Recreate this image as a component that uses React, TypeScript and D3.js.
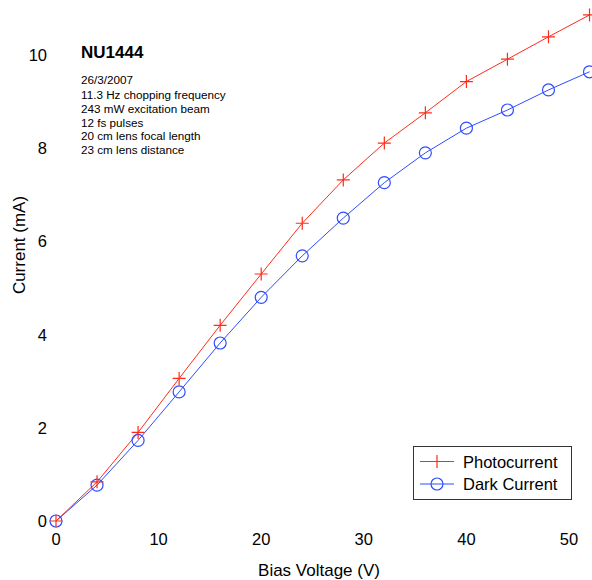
import React, { useRef, useEffect } from 'react';
import * as d3 from 'd3';

const voltages = [0, 4, 8, 12, 16, 20, 24, 28, 32, 36, 40, 44, 48, 52];
const photocurrent = [0, 0.84, 1.9, 3.06, 4.2, 5.3, 6.39, 7.32, 8.11, 8.76, 9.43, 9.91, 10.39, 10.86];
const darkCurrent = [0, 0.77, 1.73, 2.77, 3.82, 4.8, 5.69, 6.5, 7.26, 7.9, 8.43, 8.82, 9.25, 9.64];
const xTicks = [0, 10, 20, 30, 40, 50];
const yTicks = [0, 2, 4, 6, 8, 10];
const notes = [
  '26/3/2007',
  '11.3 Hz chopping frequency',
  '243 mW excitation beam',
  '12 fs pulses',
  '20 cm lens focal length',
  '23 cm lens distance',
];

const RED = '#ff2a1a';
const BLUE = '#2f4cff';
const FONT = '"Liberation Sans", Arial, sans-serif';

function App() {
  const ref = useRef<SVGSVGElement>(null);

  useEffect(() => {
    const svg = d3.select(ref.current);
    svg.selectAll('*').remove();

    const x = d3.scaleLinear().domain([0, 50]).range([56, 569]);
    const y = d3.scaleLinear().domain([0, 10]).range([521, 55]);

    // tick labels, no axis lines
    svg.append('g')
      .selectAll('text')
      .data(xTicks)
      .enter().append('text')
      .attr('x', d => x(d))
      .attr('y', 545)
      .attr('text-anchor', 'middle')
      .attr('font-size', 16.5)
      .attr('font-family', FONT)
      .text(d => d);

    svg.append('g')
      .selectAll('text')
      .data(yTicks)
      .enter().append('text')
      .attr('x', 47)
      .attr('y', d => y(d) + 6)
      .attr('text-anchor', 'end')
      .attr('font-size', 16.5)
      .attr('font-family', FONT)
      .text(d => d);

    svg.append('text')
      .attr('x', 319)
      .attr('y', 576)
      .attr('text-anchor', 'middle')
      .attr('font-size', 17)
      .attr('font-family', FONT)
      .text('Bias Voltage (V)');

    svg.append('text')
      .attr('transform', 'translate(25,245) rotate(-90)')
      .attr('text-anchor', 'middle')
      .attr('font-size', 17)
      .attr('font-family', FONT)
      .text('Current (mA)');

    // annotation
    svg.append('text')
      .attr('x', 81)
      .attr('y', 58)
      .attr('font-size', 17)
      .attr('font-weight', 'bold')
      .attr('font-family', FONT)
      .text('NU1444');

    const noteY = [84, 99, 113, 127, 140, 154];
    svg.append('g')
      .selectAll('text')
      .data(notes)
      .enter().append('text')
      .attr('x', 81)
      .attr('y', (d, i) => noteY[i])
      .attr('font-size', 11.7)
      .attr('font-family', FONT)
      .text(d => d);

    const line = d3.line<number>()
      .x((d, i) => x(voltages[i]))
      .y(d => y(d));

    svg.append('path')
      .datum(darkCurrent)
      .attr('fill', 'none')
      .attr('stroke', BLUE)
      .attr('stroke-width', 1)
      .attr('d', line);

    svg.append('path')
      .datum(photocurrent)
      .attr('fill', 'none')
      .attr('stroke', RED)
      .attr('stroke-width', 1)
      .attr('d', line);

    svg.append('g')
      .selectAll('circle')
      .data(darkCurrent)
      .enter().append('circle')
      .attr('cx', (d, i) => x(voltages[i]))
      .attr('cy', d => y(d))
      .attr('r', 6)
      .attr('fill', 'none')
      .attr('stroke', BLUE)
      .attr('stroke-width', 1.2);

    const plusPath = (cx: number, cy: number, s: number) =>
      `M${cx - s},${cy}H${cx + s}M${cx},${cy - s}V${cy + s}`;

    svg.append('g')
      .selectAll('path')
      .data(photocurrent)
      .enter().append('path')
      .attr('d', (d, i) => plusPath(x(voltages[i]), y(d), 6.5))
      .attr('fill', 'none')
      .attr('stroke', RED)
      .attr('stroke-width', 1.2);

    // legend
    const legend = svg.append('g');
    legend.append('rect')
      .attr('x', 413.5)
      .attr('y', 446.5)
      .attr('width', 158)
      .attr('height', 53)
      .attr('fill', 'white')
      .attr('stroke', '#333')
      .attr('stroke-width', 1);

    const items = [
      { label: 'Photocurrent', color: RED, type: 'plus' },
      { label: 'Dark Current', color: BLUE, type: 'circle' },
    ];
    items.forEach((it, i) => {
      const ly = 461.5 + i * 22.5;
      legend.append('line')
        .attr('x1', 420).attr('x2', 454)
        .attr('y1', ly).attr('y2', ly)
        .attr('stroke', it.color);
      if (it.type === 'plus') {
        legend.append('path')
          .attr('d', plusPath(437, ly, 6.5))
          .attr('stroke', it.color)
          .attr('stroke-width', 1.2);
      } else {
        legend.append('circle')
          .attr('cx', 437).attr('cy', ly).attr('r', 6)
          .attr('fill', 'none')
          .attr('stroke', it.color)
          .attr('stroke-width', 1.2);
      }
      legend.append('text')
        .attr('x', 463)
        .attr('y', ly + 6)
        .attr('font-size', 16.5)
        .attr('font-family', FONT)
        .text(it.label);
    });
  }, []);

  return (
    <svg
      ref={ref}
      width={592}
      height={580}
      style={{ position: 'absolute', left: 0, top: 0, background: 'white' }}
    ></svg>
  );
}

export default App;
